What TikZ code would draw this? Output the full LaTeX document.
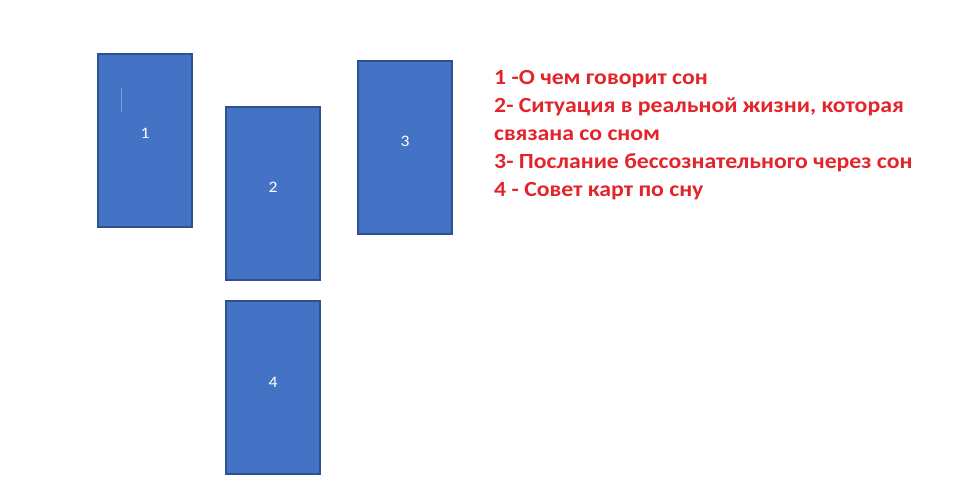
\documentclass[tikz,border=0pt]{standalone}
\usepackage{fontspec}
\setmainfont{Carlito}
\newfontfamily\legendfont[FakeStretch=1.1]{Carlito}
\definecolor{cardfill}{HTML}{4472C4}
\definecolor{cardline}{HTML}{2F528F}
\definecolor{redtext}{HTML}{E3242B}
\begin{document}
\begin{tikzpicture}[x=1pt,y=-1pt,
  card/.style={draw=cardline,fill=cardfill,line width=2pt,minimum width=94pt,minimum height=173pt,inner sep=0pt,anchor=north west},
  cardnum/.style={text=white,font=\legendfont\fontsize{16}{18}\selectfont,inner sep=0pt},
  legend/.style={anchor=base west,inner sep=0pt,text=redtext,font=\legendfont\fontsize{21.6}{24}\selectfont\bfseries}]
\useasboundingbox (0,0) rectangle (963,485);
\fill[white] (0,0) rectangle (963,485);
\node[card] (c1) at (97,53) {};
\node[card] (c2) at (225,106) {};
\node[card] (c3) at (357,60) {};
\node[card] (c4) at (225,300) {};
\node[cardnum] (n1) at ([yshift=7pt]c1.center) {1};
\node[cardnum] (n2) at ([yshift=6pt]c2.center) {2};
\node[cardnum] (n3) at ([yshift=6pt]c3.center) {3};
\node[cardnum] (n4) at ([yshift=5pt]c4.center) {4};
\draw[cardfill!70!white,line width=0.6pt] (121,88) -- (121,112);
\node[legend] (l1) at (494,84) {1 -О чем говорит сон};
\node[legend] (l2) at (494,112) {2- Ситуация в реальной жизни, которая};
\node[legend] (l3) at (494,140) {связана со сном};
\node[legend] (l4) at (494,168) {3- Послание бессознательного через сон};
\node[legend] (l5) at (494,196) {4 - Совет карт по сну};
\end{tikzpicture}
\end{document}
